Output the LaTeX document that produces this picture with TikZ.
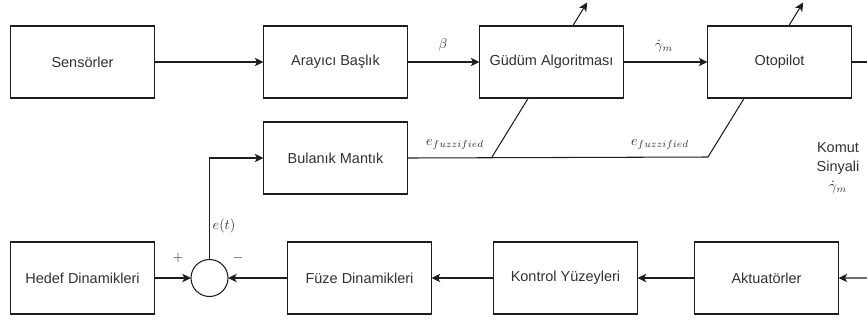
\documentclass[tikz,border=0pt]{standalone}
\usepackage{amsmath}
\usepackage{fontspec}
\setmainfont{Liberation Sans}
\usetikzlibrary{arrows.meta, positioning, backgrounds}
\definecolor{LineGray}{RGB}{30, 30, 30}
\definecolor{TextGray}{RGB}{50, 50, 50}

\begin{document}
\begin{tikzpicture}[node distance=0.5cm]
        \tikzset{
            blok/.style={rectangle, draw=LineGray, line width=0.75pt, minimum width=3.6cm, minimum height=1.8cm, outer sep=0pt, fill=white, text=TextGray, font=\fontsize{10.3}{12}\selectfont},
            toplam/.style={circle, draw=LineGray, line width=0.75pt, minimum size=0.925cm, inner sep=0pt, outer sep=0pt, fill=white},
            ok/.style={-{Stealth[length=2.2mm, width=2.1mm, inset=0.6mm]}, draw=LineGray, line width=0.75pt},
            hat/.style={draw=LineGray, line width=0.75pt},
            etiket/.style={text=TextGray, font=\fontsize{10.3}{12}\selectfont, inner sep=0pt}
        }
        \useasboundingbox (0,0) rectangle (21.675,-8.1);

        % ust sira
        \node[blok] (sens) at (2.0625,-1.55) {Sensörler};
        \node[blok, right=2.725cm of sens] (aray) {Arayıcı Başlık};
        \node[blok, right=1.8cm of aray] (gudum) {Güdüm Algoritması};
        \node[blok, right=2.1cm of gudum] (oto) {Otopilot};

        % bulanik mantik
        \node[blok, below=0.6cm of aray] (bulanik) {Bulanık Mantık};

        % alt sira
        \node[blok, below=3.6cm of sens] (hedef) {Hedef Dinamikleri};
        \node[toplam, right=0.9125cm of hedef] (top) {};
        \node[blok, right=1.4875cm of top] (fuze) {Füze Dinamikleri};
        \node[blok, right=1.55cm of fuze] (kontrol) {Kontrol Yüzeyleri};
        \node[blok, right=1.425cm of kontrol] (akt) {Aktuatörler};

        % serbest uclar
        \coordinate (otoSag) at (21.675,-1.55);
        \coordinate (aktSag) at (21.675,-6.95);
        \coordinate (fz1) at (12.3,-3.925);
        \coordinate (fz2) at (17.7,-3.925);
        \coordinate (uc1) at (14.68,-0.06);
        \coordinate (uc2) at (20.08,-0.06);

        % baglantilar
        \draw[ok] (sens) -- (aray);
        \draw[ok] (aray) -- (gudum);
        \draw[ok] (gudum) -- (oto);
        \draw[hat] (oto.east) -- (otoSag);
        \draw[ok] (aktSag) -- (akt.east);
        \draw[ok] (akt) -- (kontrol);
        \draw[ok] (kontrol) -- (fuze);
        \draw[ok] (fuze) -- (top);
        \draw[ok] (hedef) -- (top);
        \draw[ok] (top.north) |- (bulanik.west);
        \begin{scope}[on background layer]
            \draw[hat] (bulanik.east) -- (fz2);
            \draw[ok] (fz1) -- (uc1);
            \draw[ok] (fz2) -- (uc2);
        \end{scope}

        % etiketler
        \node[etiket] (beta) at (11.075,-1.125) {$\beta$};
        \node[etiket] (gamma) at (16.6,-1.15) {$\dot{\gamma}_m$};
        \node[etiket] (efz1) at (11.375,-3.6) {$e_{fuzzified}$};
        \node[etiket] (efz2) at (16.5,-3.6) {$e_{fuzzified}$};
        \node[etiket] (et) at (5.6,-5.65) {$e(t)$};
        \node[etiket] (arti) at (4.45,-6.45) {$+$};
        \node[etiket] (eksi) at (5.95,-6.45) {$-$};
        \node[etiket, align=center, font=\fontsize{10.3}{13.5}\selectfont] (komut) at (20.95,-4.2) {Komut\\Sinyali\\$\dot{\gamma}_m$};

    \end{tikzpicture}
\end{document}
